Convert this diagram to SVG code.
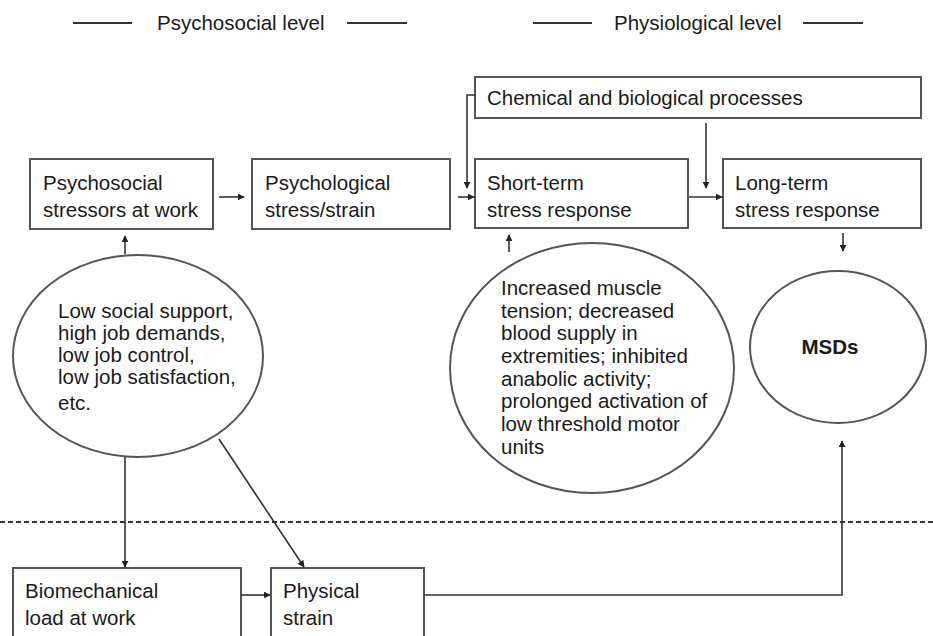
<svg xmlns="http://www.w3.org/2000/svg" width="933" height="636" viewBox="0 0 933 636">
<defs>
<style>
.t{font-family:"Liberation Sans",Arial,sans-serif;font-size:20.5px;fill:#1a1a1a}
.b{fill:#fff;stroke:#555;stroke-width:2}
.c{fill:none;stroke:#333;stroke-width:1.6}
.h{stroke:#333;stroke-width:2}
</style>
<marker id="ah" viewBox="0 0 10 10" refX="9" refY="5" markerWidth="7" markerHeight="7" orient="auto" markerUnits="userSpaceOnUse">
<path d="M0,0 L10,5 L0,10 z" fill="#222"/>
</marker>
</defs>
<rect width="933" height="636" fill="#fff"/>
<g id="headers">
<line x1="73" y1="23" x2="132" y2="23" class="h"/>
<text x="157" y="30" class="t">Psychosocial level</text>
<line x1="347" y1="23" x2="407" y2="23" class="h"/>
<line x1="533" y1="23" x2="592" y2="23" class="h"/>
<text x="614" y="30" class="t">Physiological level</text>
<line x1="803" y1="23" x2="863" y2="23" class="h"/>
</g>
<line x1="0" y1="522" x2="933" y2="522" stroke="#333" stroke-width="2" stroke-dasharray="5,3"/>
<g id="chem"><rect x="475" y="77" width="446" height="41" class="b"/><text x="487" y="105" class="t">Chemical and biological processes</text></g>
<g id="psychosocial"><rect x="30" y="159" width="183" height="70" class="b"/><text x="43" y="190" class="t">Psychosocial</text><text x="43" y="217" class="t">stressors at work</text></g>
<g id="psychological"><rect x="252" y="159" width="198" height="70" class="b"/><text x="265" y="190" class="t">Psychological</text><text x="265" y="217" class="t">stress/strain</text></g>
<g id="shortterm"><rect x="475" y="159" width="213" height="69" class="b"/><text x="487" y="190" class="t">Short-term</text><text x="487" y="217" class="t">stress response</text></g>
<g id="longterm"><rect x="723" y="159" width="198" height="69" class="b"/><text x="735" y="190" class="t">Long-term</text><text x="735" y="217" class="t">stress response</text></g>
<g id="factors"><ellipse cx="138" cy="356" rx="125" ry="101" class="b"/>
<text class="t"><tspan x="58" y="318">Low social support,</tspan><tspan x="58" y="340">high job demands,</tspan><tspan x="58" y="362">low job control,</tspan><tspan x="58" y="384">low job satisfaction,</tspan><tspan x="58" y="410">etc.</tspan></text></g>
<g id="effects"><ellipse cx="592" cy="368" rx="142" ry="125" class="b"/>
<text class="t"><tspan x="501" y="295">Increased muscle</tspan><tspan x="501" y="318">tension; decreased</tspan><tspan x="501" y="340">blood supply in</tspan><tspan x="501" y="363">extremities; inhibited</tspan><tspan x="501" y="386">anabolic activity;</tspan><tspan x="501" y="408">prolonged activation of</tspan><tspan x="501" y="431">low threshold motor</tspan><tspan x="501" y="454">units</tspan></text></g>
<g id="msds"><ellipse cx="838" cy="347" rx="88" ry="76" class="b" stroke-width="2.4"/><text x="830" y="354" class="t" font-weight="bold" text-anchor="middle">MSDs</text></g>
<g id="biomech"><rect x="13" y="568" width="228" height="80" class="b"/><text x="25" y="598" class="t">Biomechanical</text><text x="25" y="625" class="t">load at work</text></g>
<g id="physical"><rect x="271" y="568" width="153" height="80" class="b"/><text x="283" y="598" class="t">Physical</text><text x="283" y="625" class="t">strain</text></g>
<g id="connectors" class="c">
<line x1="219" y1="197" x2="244" y2="197" class="c" marker-end="url(#ah)"/>
<line x1="458" y1="197" x2="474" y2="197" class="c" marker-end="url(#ah)"/>
<line x1="689" y1="197" x2="722" y2="197" class="c" marker-end="url(#ah)"/>
<polyline points="475,95 467,95 467,188" class="c" marker-end="url(#ah)"/>
<line x1="706" y1="123" x2="706" y2="188" class="c" marker-end="url(#ah)"/>
<line x1="125" y1="254" x2="125" y2="236" class="c" marker-end="url(#ah)"/>
<line x1="509" y1="252" x2="509" y2="235" class="c" marker-end="url(#ah)"/>
<line x1="843" y1="233" x2="843" y2="251" class="c" marker-end="url(#ah)"/>
<line x1="125" y1="457" x2="125" y2="567" class="c" marker-end="url(#ah)"/>
<line x1="219" y1="439" x2="304" y2="567" class="c" marker-end="url(#ah)"/>
<line x1="241" y1="595" x2="270" y2="595" class="c" marker-end="url(#ah)"/>
<polyline points="424,595 842,595 842,441" class="c" marker-end="url(#ah)"/>
</g>
</svg>
